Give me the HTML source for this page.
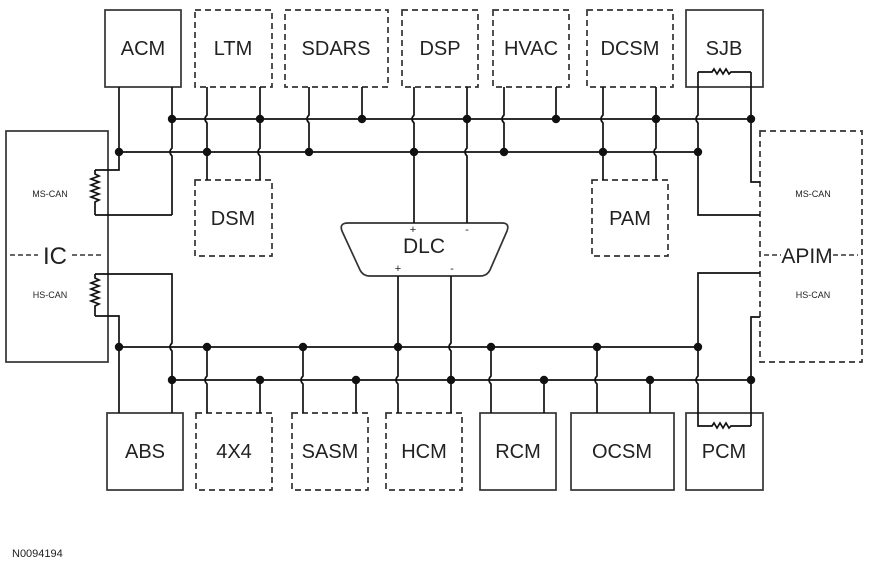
<!DOCTYPE html>
<html><head><meta charset="utf-8"><style>
html,body{margin:0;padding:0;background:#fff;}
svg{display:block;}
text{font-family:"Liberation Sans",Arial,sans-serif;fill:#222;}
</style></head><body>
<svg width="870" height="570" viewBox="0 0 870 570" xmlns="http://www.w3.org/2000/svg">
<g fill="none" stroke="#333" stroke-width="1.7">
<rect x="105" y="10" width="76" height="77"/>
<rect x="686" y="10" width="77" height="77"/>
<g stroke-dasharray="6,4">
<rect x="195" y="10" width="77" height="77"/>
<rect x="285" y="10" width="103" height="77"/>
<rect x="402" y="10" width="76" height="77"/>
<rect x="493" y="10" width="76" height="77"/>
<rect x="587" y="10" width="86" height="77"/>
<rect x="195" y="180" width="77" height="76"/>
<rect x="592" y="180" width="76" height="76"/>
<rect x="760" y="131" width="102" height="231"/>
<rect x="196" y="413" width="76" height="77"/>
<rect x="292" y="413" width="76" height="77"/>
<rect x="386" y="413" width="76" height="77"/>
</g>
<rect x="6" y="131" width="102" height="231"/>
<rect x="107" y="413" width="76" height="77"/>
<rect x="480" y="413" width="76" height="77"/>
<rect x="571" y="413" width="103" height="77"/>
<rect x="686" y="413" width="77" height="77"/>
<path d="M348 223 H502 Q510 223 507 231 L490 270 Q487 276 480 276 H370 Q363 276 360 270 L342 231 Q339 223 348 223 Z"/>
<g stroke-dasharray="5,3" stroke-width="1.4">
<path d="M10 255 H38 M72 255 H104"/>
<path d="M764 255 H781 M833 255 H858"/>
</g>
</g>
<g fill="none" stroke="#111" stroke-width="1.7">
<path d="M172 119 H751 M119 152 H698 M119 347 H698 M172 380 H751"/>
<path d="M119 87 V170 H95 M95 215 H172"/>
<path d="M172 87 V148 q-4 4 0 8 V215"/>
<path d="M95 170 V174 l4 2 l-8 3 l8 3 l-8 3 l8 3 l-8 3 l8 3 l-8 3 l8 3 l-4 2 V215"/>
<path d="M207 87 V115 q-4 4 0 8 V180"/>
<path d="M260 87 V148 q-4 4 0 8 V180"/>
<path d="M309 87 V115 q-4 4 0 8 V152"/>
<path d="M362 87 V119"/>
<path d="M414 87 V115 q-4 4 0 8 V223"/>
<path d="M467 87 V148 q-4 4 0 8 V223"/>
<path d="M504 87 V115 q-4 4 0 8 V152"/>
<path d="M556 87 V119"/>
<path d="M603 87 V115 q-4 4 0 8 V180"/>
<path d="M656 87 V148 q-4 4 0 8 V180"/>
<path d="M698 72 H712 l2 -3 l3 5 l3 -5 l3 5 l3 -5 l3 5 l2 -2 H751"/>
<path d="M698 72 V115 q-4 4 0 8 V215 H760"/>
<path d="M751 72 V182 H760"/>
<path d="M95 274 H172 V343 q-4 4 0 8 V413"/>
<path d="M95 316 H119 V413"/>
<path d="M95 274 V278 l4 2 l-8 3 l8 3 l-8 3 l8 3 l-8 3 l8 3 l-8 3 l8 3 l-4 2 V316"/>
<path d="M207 347 V376 q-4 4 0 8 V413"/>
<path d="M260 380 V413"/>
<path d="M303 347 V376 q-4 4 0 8 V413"/>
<path d="M356 380 V413"/>
<path d="M398 276 V376 q-4 4 0 8 V413"/>
<path d="M451 276 V343 q-4 4 0 8 V413"/>
<path d="M491 347 V376 q-4 4 0 8 V413"/>
<path d="M544 380 V413"/>
<path d="M597 347 V376 q-4 4 0 8 V413"/>
<path d="M650 380 V413"/>
<path d="M760 273 H698 V376 q-4 4 0 8 V426 H712 l2 -3 l3 5 l3 -5 l3 5 l3 -5 l3 5 l2 -2 H751"/>
<path d="M760 317 H751 V426"/>
</g>
<g fill="#111">
<circle cx="172" cy="119" r="4.2"/><circle cx="260" cy="119" r="4.2"/><circle cx="362" cy="119" r="4.2"/>
<circle cx="467" cy="119" r="4.2"/><circle cx="556" cy="119" r="4.2"/><circle cx="656" cy="119" r="4.2"/><circle cx="751" cy="119" r="4.2"/>
<circle cx="119" cy="152" r="4.2"/><circle cx="207" cy="152" r="4.2"/><circle cx="309" cy="152" r="4.2"/>
<circle cx="414" cy="152" r="4.2"/><circle cx="504" cy="152" r="4.2"/><circle cx="603" cy="152" r="4.2"/><circle cx="698" cy="152" r="4.2"/>
<circle cx="119" cy="347" r="4.2"/><circle cx="207" cy="347" r="4.2"/><circle cx="303" cy="347" r="4.2"/>
<circle cx="398" cy="347" r="4.2"/><circle cx="491" cy="347" r="4.2"/><circle cx="597" cy="347" r="4.2"/><circle cx="698" cy="347" r="4.2"/>
<circle cx="172" cy="380" r="4.2"/><circle cx="260" cy="380" r="4.2"/><circle cx="356" cy="380" r="4.2"/>
<circle cx="451" cy="380" r="4.2"/><circle cx="544" cy="380" r="4.2"/><circle cx="650" cy="380" r="4.2"/><circle cx="751" cy="380" r="4.2"/>
</g>
<g font-size="20" text-anchor="middle">
<text x="143" y="55">ACM</text>
<text x="233" y="55">LTM</text>
<text x="336" y="55">SDARS</text>
<text x="440" y="55">DSP</text>
<text x="531" y="55">HVAC</text>
<text x="630" y="55">DCSM</text>
<text x="724" y="55">SJB</text>
<text x="233" y="225">DSM</text>
<text x="630" y="225">PAM</text>
<text x="424" y="253" font-size="21">DLC</text>
<text x="55" y="264" font-size="24">IC</text>
<text x="807" y="263" font-size="21">APIM</text>
<text x="145" y="458">ABS</text>
<text x="234" y="458">4X4</text>
<text x="330" y="458">SASM</text>
<text x="424" y="458">HCM</text>
<text x="518" y="458">RCM</text>
<text x="622" y="458">OCSM</text>
<text x="724" y="458">PCM</text>
</g>
<g font-size="9" text-anchor="middle">
<text x="50" y="197">MS-CAN</text>
<text x="50" y="298">HS-CAN</text>
<text x="813" y="197">MS-CAN</text>
<text x="813" y="298">HS-CAN</text>
</g>
<g font-size="11" text-anchor="middle">
<text x="413" y="233">+</text><text x="467" y="233">-</text>
<text x="398" y="272">+</text><text x="452" y="272">-</text>
</g>
<text x="12" y="557" font-size="11">N0094194</text>
</svg>
</body></html>
